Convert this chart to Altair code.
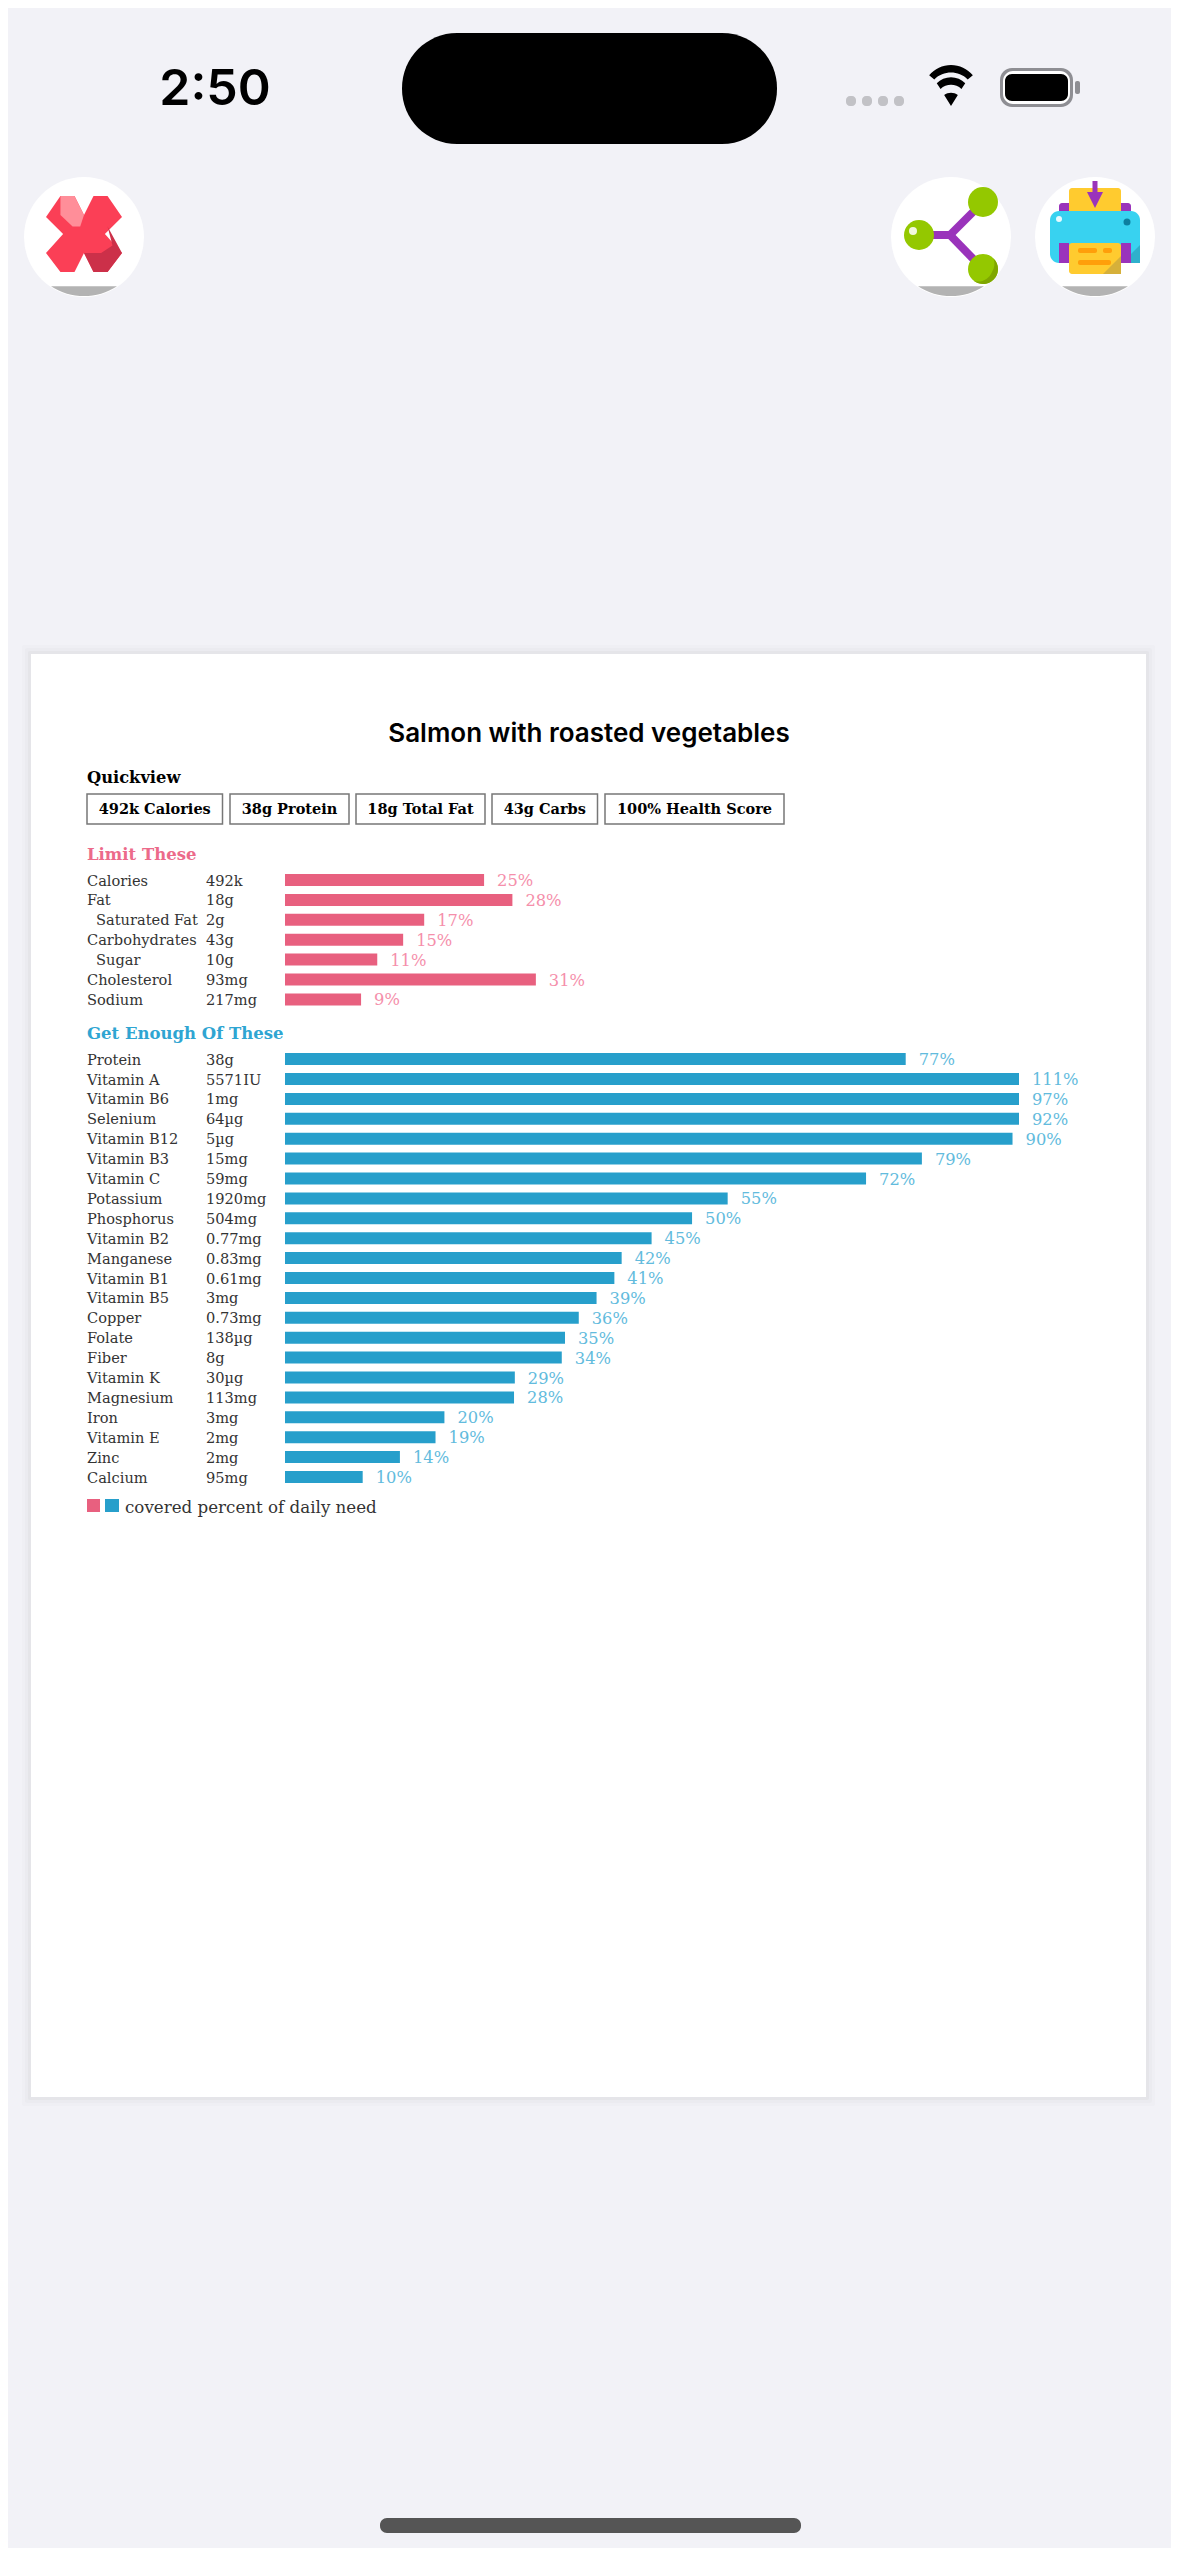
import altair as alt
import pandas as pd

TITLE = "Salmon with roasted vegetables"
QUICK = ["492k Calories", "38g Protein", "18g Total Fat", "43g Carbs", "100% Health Score"]

LIMIT_NAMES = ["Calories", "Fat", "Saturated Fat", "Carbohydrates", "Sugar", "Cholesterol", "Sodium"]
LIMIT_AMOUNTS = ["492k", "18g", "2g", "43g", "10g", "93mg", "217mg"]
LIMIT_LABELS = ["25%", "28%", "17%", "15%", "11%", "31%", "9%"]
LIMIT_BARS = [24.6, 28.1, 17.2, 14.6, 11.4, 31.0, 9.4]

GOOD_NAMES = ["Protein", "Vitamin A", "Vitamin B6", "Selenium", "Vitamin B12", "Vitamin B3", "Vitamin C",
              "Potassium", "Phosphorus", "Vitamin B2", "Manganese", "Vitamin B1", "Vitamin B5", "Copper",
              "Folate", "Fiber", "Vitamin K", "Magnesium", "Iron", "Vitamin E", "Zinc", "Calcium"]
GOOD_AMOUNTS = ["38g", "5571IU", "1mg", "64µg", "5µg", "15mg", "59mg", "1920mg", "504mg", "0.77mg", "0.83mg",
                "0.61mg", "3mg", "0.73mg", "138µg", "8g", "30µg", "113mg", "3mg", "2mg", "2mg", "95mg"]
GOOD_LABELS = ["77%", "111%", "97%", "92%", "90%", "79%", "72%", "55%", "50%", "45%", "42%", "41%", "39%",
               "36%", "35%", "34%", "29%", "28%", "20%", "19%", "14%", "10%"]
GOOD_BARS = [76.7, 111, 97, 92, 89.9, 78.7, 71.8, 54.7, 50.3, 45.3, 41.6, 40.7, 38.5, 36.3,
             34.6, 34.2, 28.4, 28.3, 19.7, 18.6, 14.2, 9.6]
SPACERS = ["_gap1", "_gap2"]
INDENTED = ["Saturated Fat", "Sugar"]

PINK, BLUE = "#e8607f", "#279fcb"
PINK_H, BLUE_H = "#ec6a8a", "#2fa5d2"
PINK_T, BLUE_T = "#f58fab", "#62bbdd"
INK = "#333333"
SERIF, SANS = "DejaVu Serif", "Inter"
O = 8
ONE = alt.Data(values=[{}])

y_scale = alt.Scale(type="point", domain=LIMIT_NAMES + SPACERS + GOOD_NAMES, range=[880 - O, 1477 - O], padding=0)
x_scale = alt.Scale(domain=[0, 90.7], range=[285 - O, 1019 - O], clamp=True)


def rect(x1, y1, x2, y2, color, r=0, **kw):
    return alt.Chart(ONE).mark_rect(color=color, cornerRadius=r, **kw).encode(
        x=alt.value(x1 - O), x2=alt.value(x2 - O), y=alt.value(y1 - O), y2=alt.value(y2 - O))


def box(x1, y1, x2, y2, stroke, sw):
    return alt.Chart(ONE).mark_rect(fill="#ffffff", stroke=stroke, strokeWidth=sw).encode(
        x=alt.value(x1 - O), x2=alt.value(x2 - O), y=alt.value(y1 - O), y2=alt.value(y2 - O))


def txt(s, x, y, size, color=INK, weight="normal", font=SERIF, align="left"):
    return alt.Chart(ONE).mark_text(text=s, fontSize=size, color=color, fontWeight=weight, font=font,
                                    align=align, baseline="middle").encode(x=alt.value(x - O), y=alt.value(y - O))


def dot(x, y, r, color):
    return alt.Chart(ONE).mark_circle(color=color, opacity=1, size=(2 * r) ** 2).encode(
        x=alt.value(x - O), y=alt.value(y - O))


def shape(path, x, y, r, color):
    return alt.Chart(ONE).mark_point(shape=path, filled=True, color=color, opacity=1, strokeWidth=0,
                                     size=(2 * r) ** 2).encode(x=alt.value(x - O), y=alt.value(y - O))


def seg(x1, y1, x2, y2, color, w):
    return alt.Chart(ONE).mark_rule(color=color, strokeWidth=w).encode(
        x=alt.value(x1 - O), x2=alt.value(x2 - O), y=alt.value(y1 - O), y2=alt.value(y2 - O))


layers = []

# status bar
layers += [txt("2:50", 215, 90, 50, "#000000", 600, SANS, "center")]
layers += [rect(402, 33, 777, 144, "#000000", 55)]
for x in (846, 862, 878, 894):
    layers += [rect(x, 96, x + 10, 106, "#c2c2c6", 4)]
WIFI = "M0,1 L-0.36,0.42 A0.6,0.6 0 0 1 0.36,0.42 Z M-0.55,0.1 L-0.75,-0.2 A1.05,1.05 0 0 1 0.75,-0.2 L0.55,0.1 A0.8,0.8 0 0 0 -0.55,0.1 Z M-0.88,-0.4 L-1.15,-0.62 A1.5,1.5 0 0 1 1.15,-0.62 L0.88,-0.4 A1.25,1.25 0 0 0 -0.88,-0.4 Z"
layers += [shape(WIFI, 951, 87, 19, "#000000")]
layers += [rect(1000, 68, 1073, 107, "#8e8e93", 12), rect(1003, 71, 1070, 104, "#ffffff", 10),
           rect(1005, 74, 1068, 101, "#000000", 7), rect(1075, 81, 1080, 94, "#8e8e93", 2)]

# buttons
SEGMENT = "M-0.55,0.82 A1,1 0 0 0 0.55,0.82 Z"
for cx in (84, 951, 1095):
    layers += [dot(cx, 237, 60, "#ffffff"), shape(SEGMENT, cx, 237, 60, "#b3b3b3")]
X_ICON = "M-0.62,-1 L-0.25,-1 L0,-0.5 L0.25,-1 L0.62,-1 L1,-0.45 L0.55,0 L1,0.5 L0.62,1 L0.25,1 L0,0.5 L-0.25,1 L-0.62,1 L-1,0.5 L-0.55,0 L-1,-0.45 Z"
X_DARK = "M0.62,-0.2 L1,0.5 L0.62,1 L0.25,1 L0,0.5 L0.45,0.5 L0.75,0.3 Z"
X_LIGHT = "M-0.62,-1 L-0.25,-1 L0,-0.5 L-0.1,-0.2 L-0.3,-0.2 L-0.62,-0.5 Z"
layers += [shape(X_ICON, 84, 234, 38, "#fb3f56"), shape(X_DARK, 84, 234, 38, "#cc3049"),
           shape(X_LIGHT, 84, 234, 38, "#ff8e99")]

# share icon
SHADE = "M1,0 A1,1 0 0 1 -0.6,0.8 A1,1 0 0 0 0.6,0.2 A1,1 0 0 0 0.7,-0.7 A1,1 0 0 1 1,0 Z"
layers += [seg(950, 235, 983, 202, "#9a33bb", 8), seg(950, 235, 983, 269, "#9a33bb", 8),
           seg(919, 235, 950, 235, "#9a33bb", 8),
           dot(919, 235, 15, "#94c800"), dot(983, 202, 15, "#94c800"), dot(983, 269, 15, "#94c800"),
           shape(SHADE, 983, 269, 15, "#7fa600"),
           dot(913, 231, 4, "#f2f8dd")]

# printer icon
TRI = "M1,-1 L1,1 L-1,1 Z"
layers += [rect(1059, 203, 1131, 263, "#9a33bb", 3), rect(1069, 188, 1121, 225, "#ffcb2f", 3),
           rect(1050, 211, 1140, 263, "#38d2f0", 9),
           shape(TRI, 1131, 254, 9, "#2fb0cc"),
           rect(1059, 243, 1069, 263, "#9a33bb"), rect(1121, 243, 1131, 263, "#9a33bb"),
           rect(1069, 243, 1121, 274, "#ffcb2f", 3),
           shape(TRI, 1112, 265, 9, "#d6b03a"),
           rect(1078, 248, 1097, 253, "#ff9f0a", 2), rect(1103, 248, 1112, 253, "#ff9f0a", 2),
           rect(1078, 260, 1111, 265, "#ff9f0a", 2),
           dot(1127, 222, 3.5, "#0d7fa0"), dot(1059, 219, 3, "#e8fbff"),
           seg(1095, 181, 1095, 196, "#9a33bb", 5)]
ARROW = "M-1,-1 L1,-1 L0,1 Z"
layers += [shape(ARROW, 1095, 200, 8, "#9a33bb")]

# card
for d, op in ((9, 0.025), (6, 0.03), (3, 0.05)):
    layers += [rect(31 - d, 654 - d, 1146 + d, 2097 + d, "#777777", 2, opacity=op)]
layers += [rect(31, 654, 1146, 2097, "#ffffff")]
layers += [rect(380, 2518, 801, 2533, "#555555", 7)]

# header
layers += [txt(TITLE, 589, 734, 26, "#000000", 600, SANS, "center")]
layers += [txt("Quickview", 87, 777.5, 16.3, "#000000", "bold")]
BOXES = [(87, 222.5), (230, 349), (356, 485), (492, 597.5), (605, 784)]
for (x1, x2), label in zip(BOXES, QUICK):
    layers += [box(x1, 794, x2, 824, "#777777", 1.5),
               txt(label, (x1 + x2) / 2, 810, 14.5, "#000000", "bold", SERIF, "center")]
layers += [txt("Limit These", 87, 854.5, 16.5, PINK_H, "bold"),
           txt("Get Enough Of These", 87, 1034, 16.5, BLUE_H, "bold")]


def section(names, amounts, labels, bars, color, tcolor):
    df = pd.DataFrame({"name": names, "amount": amounts, "label": labels, "bar": bars})
    base = alt.Chart(df)
    y = alt.Y("name:N", scale=y_scale, axis=None)
    x = alt.X("bar:Q", scale=x_scale, axis=None)
    text = dict(baseline="middle", font=SERIF, fontSize=14.6, color=INK, align="left", dy=1.5)
    indented = df[df["name"].isin(INDENTED)]
    plain = df[~df["name"].isin(INDENTED)]
    out = [base.mark_bar(color=color, size=12).encode(x=x, y=y),
           base.mark_text(baseline="middle", font=SERIF, fontSize=16.3, color=tcolor, align="left", dx=13,
                          dy=1).encode(x=x, y=y, text="label:N"),
           alt.Chart(plain).mark_text(**text).encode(x=alt.value(87 - O), y=y, text="name:N"),
           base.mark_text(**text).encode(x=alt.value(206 - O), y=y, text="amount:N")]
    if len(indented):
        out.append(alt.Chart(indented).mark_text(**text).encode(x=alt.value(96 - O), y=y, text="name:N"))
    return out


layers += section(LIMIT_NAMES, LIMIT_AMOUNTS, LIMIT_LABELS, LIMIT_BARS, PINK, PINK_T)
layers += section(GOOD_NAMES, GOOD_AMOUNTS, GOOD_LABELS, GOOD_BARS, BLUE, BLUE_T)

# legend
layers += [rect(87, 1499, 100, 1512, PINK), rect(105, 1499, 119, 1512, BLUE),
           txt("covered percent of daily need", 125, 1507.5, 16.7, INK)]

chart = alt.layer(*layers).properties(
    width=1163, height=2540, background="#f2f2f7", padding=0,
    autosize=alt.AutoSizeParams(type="none"),
).configure_view(strokeWidth=0)

chart.save("out.html", embed_options={"renderer": "svg", "actions": False})
